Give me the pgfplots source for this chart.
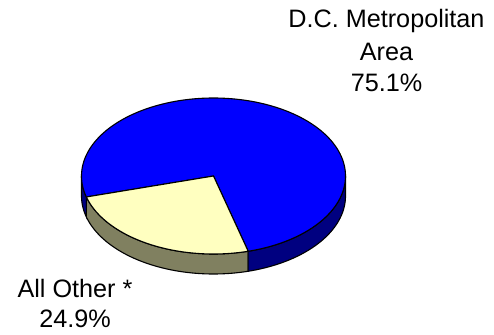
\documentclass[border=0pt]{standalone}
\usepackage{pgfplots}
\pgfplotsset{compat=1.18}
\usepackage{pgfplotstable}
\usepgfplotslibrary{fillbetween}
\usepackage{fontspec}
\setmainfont{Liberation Sans}
\definecolor{pieblue}{RGB}{0,0,255}
\definecolor{pieblueside}{RGB}{0,0,128}
\definecolor{pieyellow}{RGB}{255,255,192}
\definecolor{pieyellowside}{RGB}{128,128,96}

\pgfplotstableread{
label value
DC 75.1
Other 24.9
}\piedata

\begin{document}%
\begin{tikzpicture}
\pgfplotstablegetelem{0}{value}\of\piedata\let\vdc\pgfplotsretval
\pgfplotstablegetelem{1}{value}\of\piedata\let\vother\pgfplotsretval
\pgfmathsetmacro\sA{195.6}
\pgfmathsetmacro\sB{\sA+3.6*\vother}
\pgfmathsetmacro\sC{\sB+3.6*\vdc}
\def\cx{213.5}\def\cy{158}\def\ra{132}\def\rb{78}\def\dep{20}
\begin{axis}[width=494pt,height=334pt,scale only axis,
  xmin=0,xmax=494,ymin=0,ymax=334,hide axis,clip=false,samples=90,
  every axis plot/.append style={line join=round}]
\path (rel axis cs:0,0) rectangle (rel axis cs:1,1);
% yellow side
\addplot[draw=none,name path=yt,domain=\sA:\sB] ({\cx+\ra*cos(x)},{\cy+\rb*sin(x)});
\addplot[draw=none,name path=yb,domain=\sA:\sB] ({\cx+\ra*cos(x)},{\cy-\dep+\rb*sin(x)});
\addplot[fill=pieyellowside,draw=black,line width=1.1pt] fill between[of=yt and yb];
% blue side, right front
\addplot[draw=none,name path=bt,domain=\sB:360] ({\cx+\ra*cos(x)},{\cy+\rb*sin(x)});
\addplot[draw=none,name path=bb,domain=\sB:360] ({\cx+\ra*cos(x)},{\cy-\dep+\rb*sin(x)});
\addplot[fill=pieblueside,draw=black,line width=1.1pt] fill between[of=bt and bb];
% blue side, left front
\addplot[draw=none,name path=ct,domain=180:\sA,samples=10] ({\cx+\ra*cos(x)},{\cy+\rb*sin(x)});
\addplot[draw=none,name path=cb,domain=180:\sA,samples=10] ({\cx+\ra*cos(x)},{\cy-\dep+\rb*sin(x)});
\addplot[fill=pieblueside,draw=black,line width=1.1pt] fill between[of=ct and cb];
% top faces
\addplot[fill=pieblue,draw=black,line width=1.1pt,domain=\sB:\sC,samples=200]
  ({\cx+\ra*cos(x)},{\cy+\rb*sin(x)}) -- (axis cs:\cx,\cy) -- cycle;
\addplot[fill=pieyellow,draw=black,line width=1.1pt,domain=\sA:\sB]
  ({\cx+\ra*cos(x)},{\cy+\rb*sin(x)}) -- (axis cs:\cx,\cy) -- cycle;
% labels
\begin{scope}[every node/.style={anchor=base,inner sep=0pt,font=\fontsize{25.2}{30}\selectfont}]
\node at (axis cs:386.5,306) {D.C. Metropolitan};
\node at (axis cs:386.5,273) {Area};
\node at (axis cs:386.5,242) {75.1\%};
\node at (axis cs:75,36) {All Other *};
\node at (axis cs:75,7) {24.9\%};
\end{scope}
\end{axis}
\end{tikzpicture}%
\end{document}
